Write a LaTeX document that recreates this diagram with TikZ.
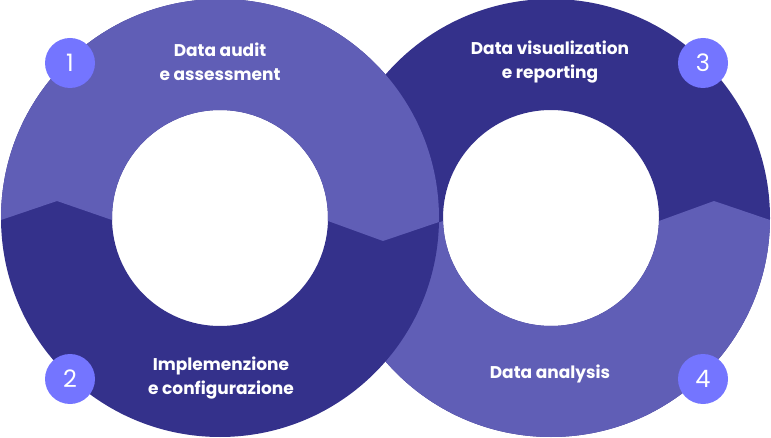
\documentclass[tikz,border=0pt]{standalone}
\usepackage{fontspec}
\setmainfont{Poppins}
\definecolor{ringlight}{RGB}{96,94,182}
\definecolor{ringdark}{RGB}{52,49,139}
\definecolor{badgeblue}{RGB}{116,117,255}
\begin{document}
\begin{tikzpicture}[x=1pt, y=1pt,
    ring/.style={even odd rule},
    badge/.style={circle, fill=badgeblue, minimum size=50pt, inner sep=0pt,
      text=white, font=\fontsize{24}{24}\selectfont},
    steptext/.style={text=white, align=center, font=\fontsize{17}{23.5}\selectfont\bfseries}
  ]
  \useasboundingbox (0,0) rectangle (771,437);

  % right ring: dark on top, light below
  \begin{scope}[shift={(551,219)}]
    \fill[ringdark, ring] (0,0) circle[radius=219pt] (0,0) circle[radius=108pt];
    \begin{scope}
      \clip (-230,-3) -- (-219,-3) -- (-163,-23) -- (-108,-3) -- (108,-3)
        -- (163,17) -- (219,-2) -- (230,-2) -- (230,-230) -- (-230,-230) -- cycle;
      \fill[ringlight, ring] (0,0) circle[radius=219pt] (0,0) circle[radius=108pt];
    \end{scope}
  \end{scope}

  % left ring: light on top, dark below
  \begin{scope}[shift={(220,219)}]
    \fill[ringdark, ring] (0,0) circle[radius=219pt] (0,0) circle[radius=108pt];
    \begin{scope}
      \clip (-230,-2) -- (-219,-2) -- (-163,17) -- (-108,-2) -- (108,-3)
        -- (163,-23) -- (219,-4) -- (230,-4) -- (230,230) -- (-230,230) -- cycle;
      \fill[ringlight, ring] (0,0) circle[radius=219pt] (0,0) circle[radius=108pt];
    \end{scope}
  \end{scope}

  \node[steptext] (audit)    at (220,375) {Data audit\\e assessment};
  \node[steptext] (visual)   at (550,375) {Data visualization\\e reporting};
  \node[steptext] (impl)     at (221,59)  {Implemenzione\\e configurazione};
  \node[steptext] (analysis) at (550,63)  {Data analysis};

  \node[badge] (b1) at (70,374)  {1};
  \node[badge] (b2) at (70,58)   {2};
  \node[badge] (b3) at (703,374) {3};
  \node[badge] (b4) at (703,58)  {4};
\end{tikzpicture}
\end{document}
